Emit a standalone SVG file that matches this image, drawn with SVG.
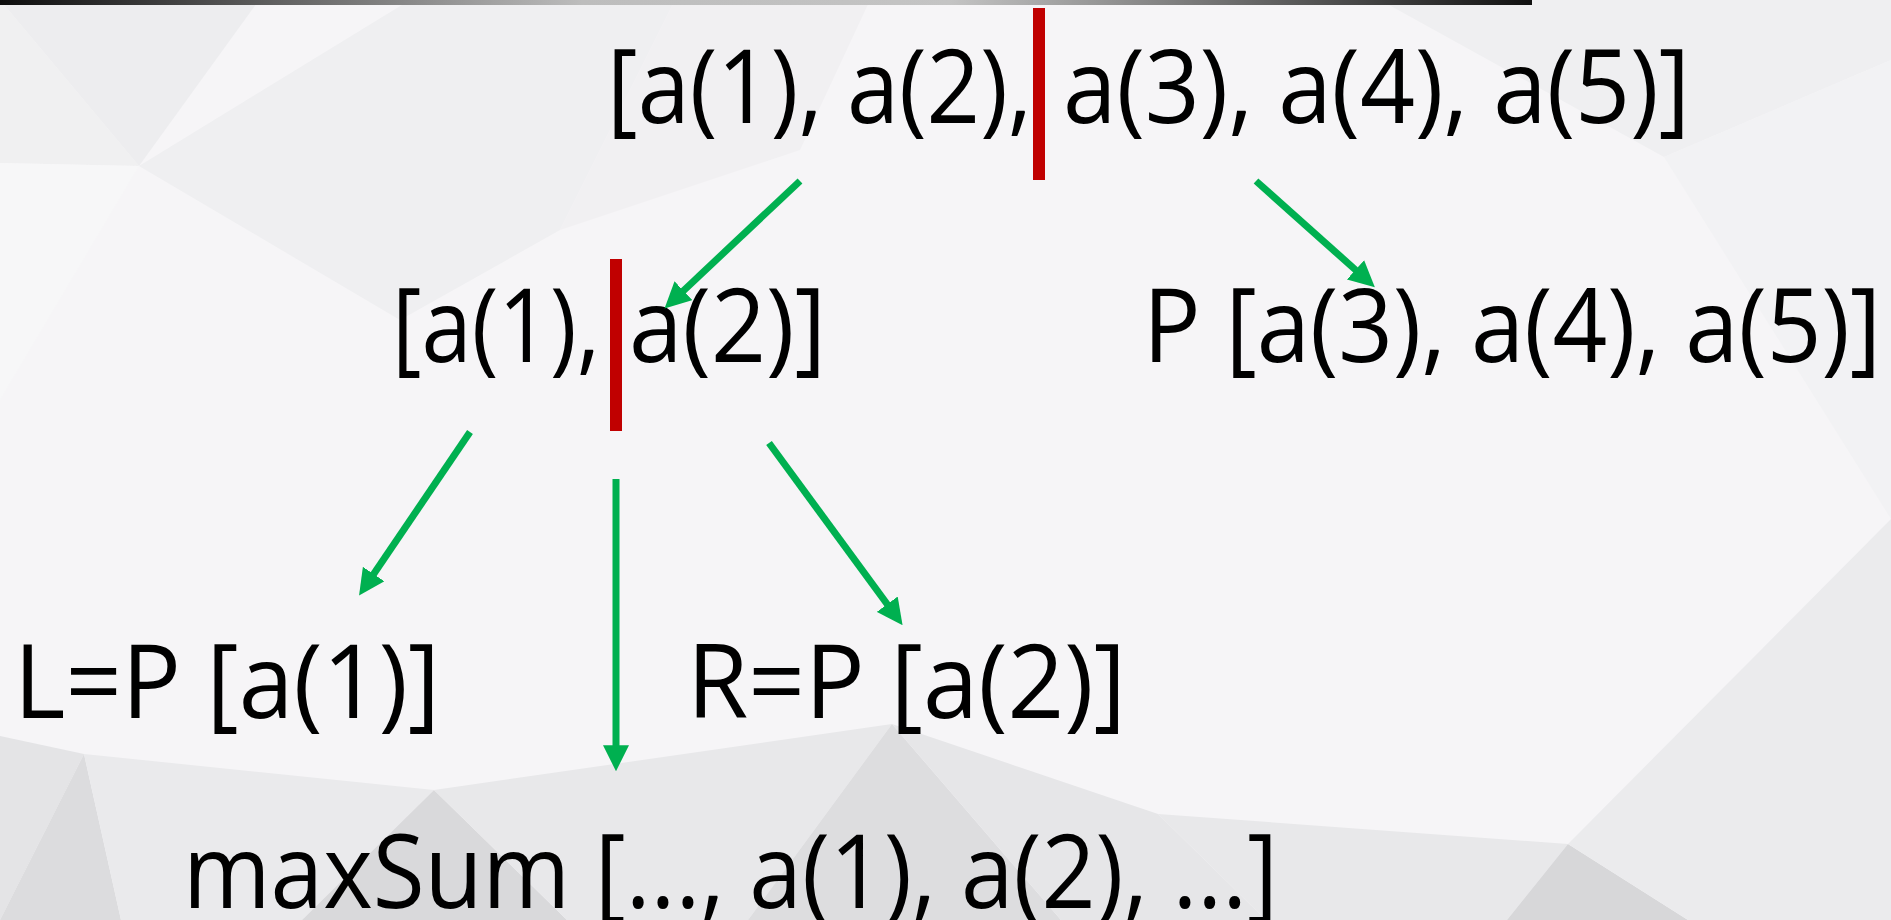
<svg xmlns="http://www.w3.org/2000/svg" width="1891" height="920" viewBox="0 0 1891 920">
<defs>
<linearGradient id="topbar" x1="0" y1="0" x2="1" y2="0">
<stop offset="0" stop-color="#0d0d0d"/>
<stop offset="0.38" stop-color="#bdbdbd"/>
<stop offset="0.62" stop-color="#c4c4c4"/>
<stop offset="1" stop-color="#111111"/>
</linearGradient>
<marker id="arr" markerUnits="userSpaceOnUse" markerWidth="26" markerHeight="26" viewBox="0 0 22 22" refX="4" refY="11" orient="auto">
<path d="M0,0 L22,11 L0,22 z" fill="#00B050"/>
</marker>
<style>
.t{font-family:"Open Sans","Noto Sans","DejaVu Sans",sans-serif;font-size:103px;fill:#000;}
.cut{fill:#C00000;}
.c{stroke:#00B050;stroke-width:7;fill:none;marker-end:url(#arr);}
</style>
</defs>
<g id="background">
<rect x="0" y="0" width="1891" height="920" fill="#f6f5f7"/>
<polygon points="0,0 259,0 139,166" fill="#ededef"/>
<polygon points="0,0 139,166 0,163" fill="#f0f0f1"/>
<polygon points="410,0 675,0 560,230 400,320 139,166" fill="#efeff1"/>
<polygon points="675,0 870,0 800,150 560,230" fill="#f1f0f2"/>
<polygon points="1380,0 1891,0 1891,60 1664,157" fill="#efeff1"/>
<polygon points="1891,60 1891,519 1664,157" fill="#f2f2f4"/>
<polygon points="0,163 139,166 0,400" fill="#f7f7f8"/>
<polygon points="0,736 84,754 0,920" fill="#e4e4e6"/>
<polygon points="84,754 121,920 0,920" fill="#dcdcde"/>
<polygon points="84,754 434,790 302,920 121,920" fill="#eaeaec"/>
<polygon points="434,790 302,920 567,920" fill="#d9d9db"/>
<polygon points="434,790 892,724 748,920 567,920" fill="#e8e8ea"/>
<polygon points="892,724 748,920 1061,920" fill="#dddddf"/>
<polygon points="892,724 1158,814 1266,920 1061,920" fill="#e6e6e8"/>
<polygon points="1158,814 1568,844 1507,920 1266,920" fill="#e8e8ea"/>
<polygon points="1568,844 1507,920 1688,920" fill="#d7d7d9"/>
<polygon points="1568,844 1891,519 1891,920 1688,920" fill="#ebebed"/>
<rect x="0" y="0" width="1532" height="5" fill="url(#topbar)"/>
</g>
<g id="node-root">
<text class="t" y="123"><tspan x="607" textLength="425" lengthAdjust="spacingAndGlyphs">[a(1), a(2),</tspan><tspan x="1063" textLength="627" lengthAdjust="spacingAndGlyphs">a(3), a(4), a(5)]</tspan></text>
<rect class="cut" x="1033" y="8" width="12" height="172"/>
</g>
<g id="node-left">
<text class="t" y="362"><tspan x="392" textLength="208" lengthAdjust="spacingAndGlyphs">[a(1),</tspan><tspan x="629" textLength="197" lengthAdjust="spacingAndGlyphs">a(2)]</tspan></text>
<rect class="cut" x="610" y="259" width="12" height="172"/>
</g>
<g id="node-right">
<text class="t" x="1143" y="362" textLength="738" lengthAdjust="spacingAndGlyphs">P [a(3), a(4), a(5)]</text>
</g>
<g id="node-L">
<text class="t" x="14" y="718" textLength="426" lengthAdjust="spacingAndGlyphs">L=P [a(1)]</text>
</g>
<g id="node-R">
<text class="t" x="687" y="718" textLength="439" lengthAdjust="spacingAndGlyphs">R=P [a(2)]</text>
</g>
<g id="node-maxsum">
<text class="t" x="183" y="908" textLength="1095" lengthAdjust="spacingAndGlyphs">maxSum [..., a(1), a(2), ...]</text>
</g>
<g id="connectors">
<line class="c" x1="800" y1="181" x2="680" y2="294"/>
<line class="c" x1="1256" y1="181" x2="1359" y2="273"/>
<line class="c" x1="470" y1="432" x2="371" y2="578"/>
<line class="c" x1="616" y1="479" x2="616" y2="750"/>
<line class="c" x1="769" y1="443" x2="890" y2="608"/>
</g>
</svg>
